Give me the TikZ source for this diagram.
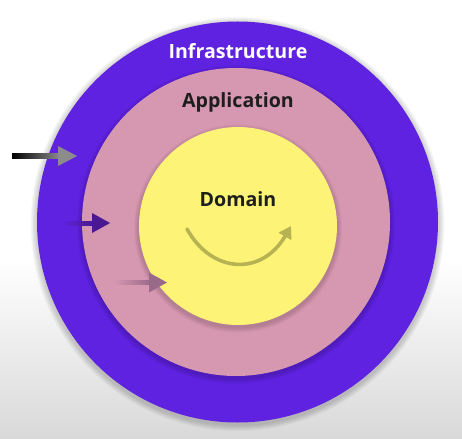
\documentclass[tikz,border=0pt]{standalone}
\usepackage{fontspec}
\setmainfont{Open Sans}
\usetikzlibrary{arrows.meta}
\definecolor{infra}{HTML}{5E22E0}
\definecolor{appl}{HTML}{D697B0}
\definecolor{dom}{HTML}{FDF377}
\definecolor{bggray}{HTML}{D9D9D9}
\definecolor{txt}{HTML}{1E1E1E}
\definecolor{olivearrow}{HTML}{B7B252}
\definecolor{grayhead}{HTML}{8C8C8C}
\definecolor{purphead}{HTML}{4A1890}
\definecolor{mauvehead}{HTML}{9A6A8A}
\tikzset{
  ring/.style={circle, inner sep=0pt, draw=none},
  lbl/.style={font=\fontsize{19.6}{23}\selectfont\bfseries, inner sep=0pt},
  shadowlayer/.style={fill=black, opacity=0.03},
  curvearrow/.style={draw=olivearrow, line width=3.6pt, line cap=round, -{Triangle[length=12pt,width=14pt]}},
}
\begin{document}
\begin{tikzpicture}[x=1pt,y=-1pt]
\useasboundingbox (0,0) rectangle (462,438);
\fill[white] (0,0) rectangle (462,438);
\shade[top color=white,bottom color=bggray] (0,260) rectangle (462,438);
% shadows
\foreach \k in {1,...,6}{
  \fill[shadowlayer] (237.5,224) circle ({201pt+\k pt});
}
\node[ring, fill=infra, minimum size=401pt] (infra) at (237.5,222) {};
\foreach \k in {1,...,5}{
  \fill[shadowlayer] (236,224.5) circle ({154pt+\k pt});
}
\node[ring, fill=appl, minimum size=308pt] (appl) at (236,222) {};
\foreach \k in {1,...,5}{
  \fill[shadowlayer] (238,228.5) circle ({99pt+\k pt});
}
\node[ring, fill=dom, minimum size=198pt] (dom) at (238,226) {};
% labels
\node[lbl, text=white] (tinfra) at (238,51) {Infrastructure};
\node[lbl, text=txt] (tappl) at (238,102) {Application};
\node[lbl, text=txt] (tdom) at (238,199) {Domain};
% curved arrow in domain
\coordinate (cs) at (187,229);
\coordinate (ce) at (291,226);
\draw[curvearrow] (cs) .. controls (212,274) and (262,276) .. (ce);
% arrow 1
\coordinate (a1s) at (12,156);
\coordinate (a1t) at (77,156);
\shade[left color=black, right color=grayhead] (12,153.3) rectangle (60,158.7);
\fill[grayhead] (58,146) -- (a1t) -- (58,166) -- cycle;
% arrow 2
\coordinate (a2t) at (110,223);
\shade[left color=infra, right color=purphead] (62,221) rectangle (94,225);
\fill[purphead] (92,213) -- (a2t) -- (92,233) -- cycle;
% arrow 3
\coordinate (a3t) at (167,282.5);
\shade[left color=appl, right color=mauvehead] (114,280.5) rectangle (151,284.5);
\fill[mauvehead] (149,272.5) -- (a3t) -- (149,292.5) -- cycle;
\end{tikzpicture}
\end{document}
